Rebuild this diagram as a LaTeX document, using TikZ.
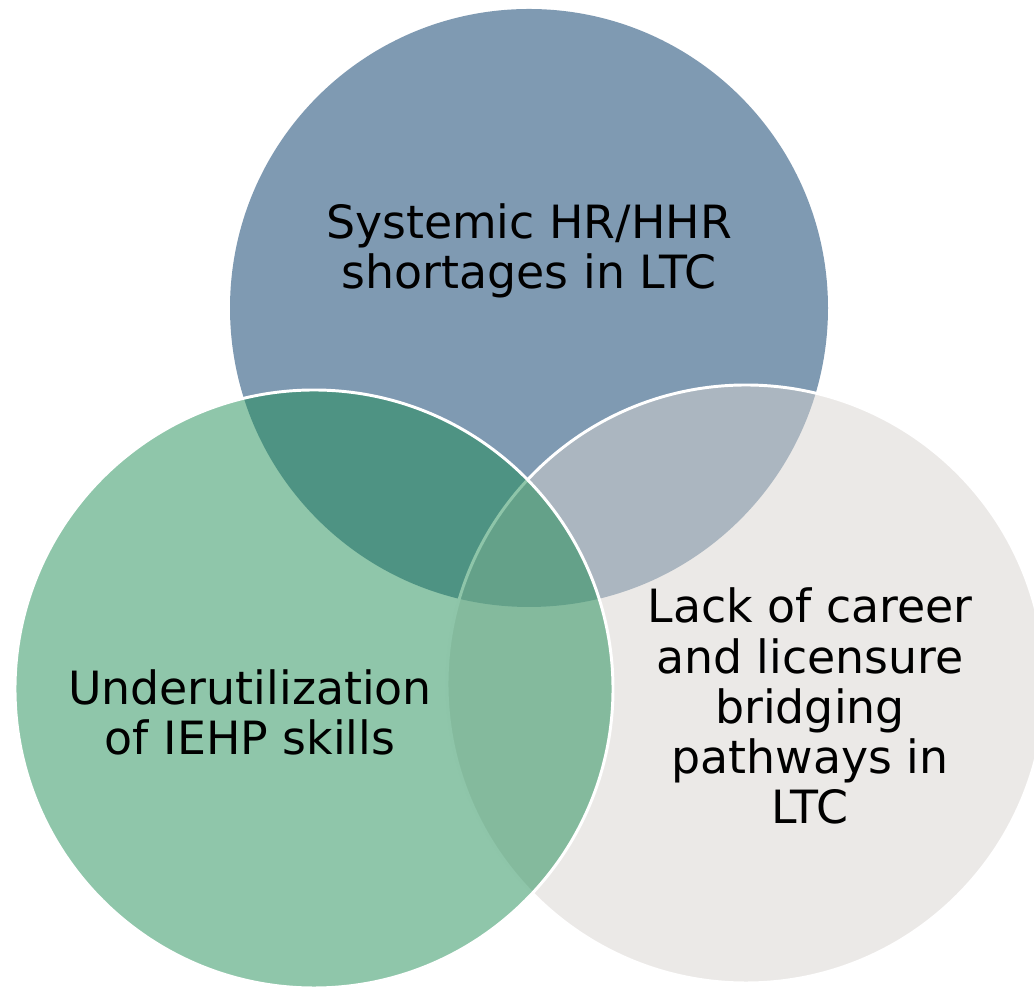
\documentclass[tikz,border=0pt]{standalone}
\usepackage{fontspec}
\setmainfont{DejaVu Sans}
\usepackage{xcolor}

\definecolor{hrblue}{RGB}{0,53,101}
\definecolor{iehpgreen}{RGB}{31,141,85}
\definecolor{pathgray}{RGB}{215,211,207}

\begin{document}
\begin{tikzpicture}[
    every node/.style={font=\fontsize{32.6}{35.6}\selectfont, align=center, inner sep=0pt},
    venn/.style={fill opacity=0.5, draw opacity=1, draw=white, line width=2.1pt}
]
\useasboundingbox (0,0) rectangle (25.85,24.775);
\clip (0,0) rectangle (25.85,24.775);

% Centres
\coordinate (hr) at (13.225,17.075);
\coordinate (path) at (18.65,7.675);
\coordinate (iehp) at (7.85,7.55);

% Circles (top one has no outline)
\fill[hrblue,fill opacity=0.5] (hr) circle (7.475);
\filldraw[venn,fill=pathgray] (path) circle (7.475);
\filldraw[venn,fill=iehpgreen] (iehp) circle (7.475);

% Labels
\node (hrtext) at (13.225,18.5) {Systemic HR/HHR\\shortages in LTC};
\node (iehptext) at (6.25,6.975) {Underutilization\\of IEHP skills};
\node (pathtext) at (20.25,7.125) {Lack of career\\and licensure\\bridging\\pathways in\\LTC};

\end{tikzpicture}
\end{document}
